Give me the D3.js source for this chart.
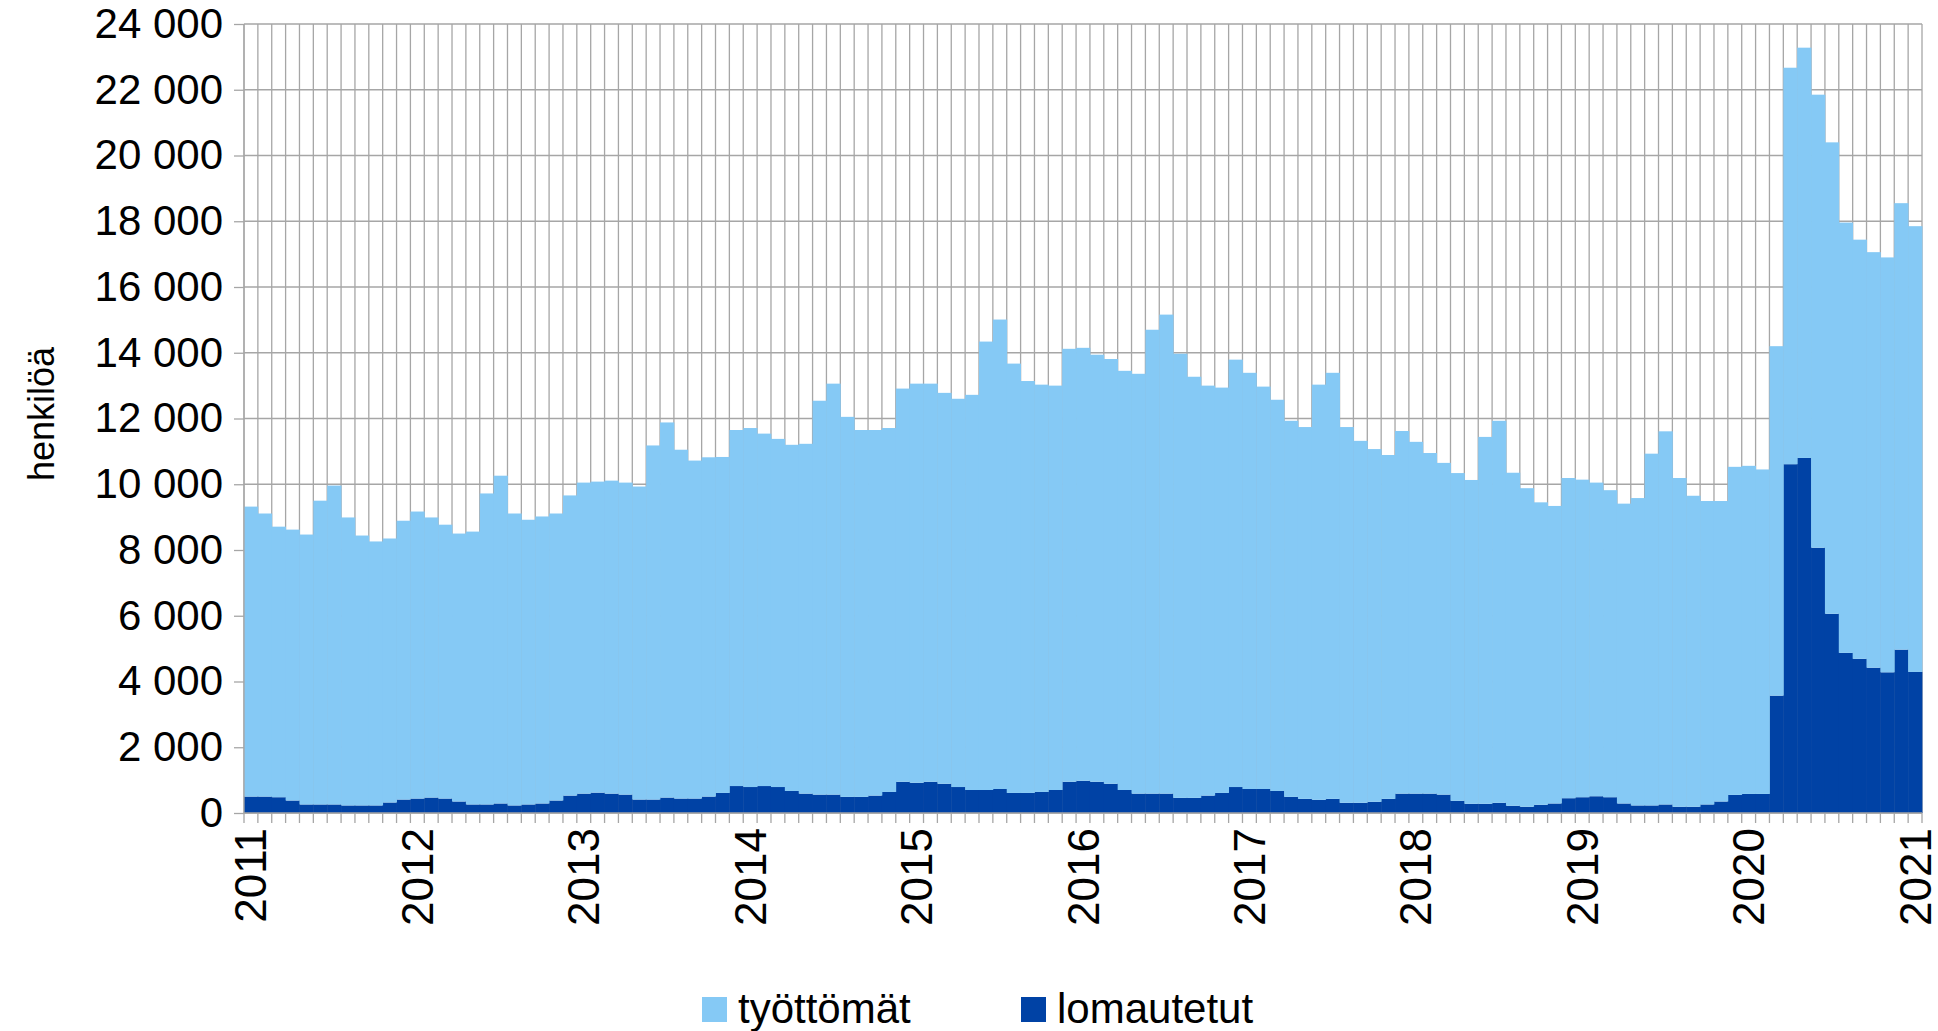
<!DOCTYPE html>
<html>
<head>
  <meta http-equiv="Content-Type" content="text/html; charset=UTF-8" />
  <title>Työttömät ja lomautetut</title>
  <style>
    body {
      padding: 0;
      margin: 0;
      background: #fff;
    }
    svg text {
      font-family: "Liberation Sans", Arial, sans-serif;
      fill: #000;
    }
  </style>
</head>
<body>

<svg width="1938" height="1031"></svg>

<script src="https://d3js.org/d3.v7.min.js"></script>
<script>

// monthly categories, Jan 2011 .. Jan 2021
var months = d3.timeMonth.range(new Date(2011, 0, 1), new Date(2021, 1, 1))
var yearLabels = ["2011", "2012", "2013", "2014", "2015", "2016", "2017", "2018", "2019", "2020", "2021"]

var lomautetut = [
  500, 500, 480, 380, 260, 260, 260, 230, 230, 230, 320, 410,
  440, 470, 440, 350, 260, 260, 290, 230, 260, 290, 380, 530,
  590, 620, 590, 560, 410, 410, 470, 440, 440, 500, 610, 820,
  790, 820, 790, 670, 590, 560, 560, 490, 490, 530, 640, 950,
  920, 950, 890, 790, 700, 700, 730, 610, 610, 640, 700, 950,
  980, 950, 890, 700, 590, 590, 590, 460, 460, 530, 610, 790,
  730, 730, 670, 490, 430, 400, 430, 310, 310, 340, 430, 590,
  590, 590, 560, 370, 280, 280, 310, 220, 190, 250, 290, 450,
  480, 510, 480, 290, 230, 230, 260, 190, 190, 260, 350, 550,
  580, 580, 3570, 10610, 10800, 8070, 6060, 4870, 4690, 4420, 4280, 4970,
  4290
]

var tyottomat = [
  8820, 8610, 8230, 8240, 8210, 9240, 9700, 8760, 8210, 8030, 8030, 8480,
  8730, 8520, 8330, 8150, 8300, 9460, 9970, 8880, 8660, 8730, 8730, 9130,
  9460, 9460, 9520, 9490, 9520, 10770, 11410, 10610, 10280, 10320, 10220, 10830,
  10920, 10720, 10590, 10530, 10640, 11980, 12500, 11560, 11160, 11120, 11070, 11960,
  12140, 12110, 11890, 11810, 12020, 13640, 14280, 13060, 12530, 12390, 12300, 13170,
  13170, 12990, 12920, 12750, 12770, 14110, 14570, 13510, 12810, 12470, 12330, 13000,
  12660, 12240, 11900, 11440, 11310, 12630, 12960, 11430, 11010, 10730, 10460, 11030,
  10700, 10360, 10090, 9970, 9850, 11160, 11620, 10130, 9690, 9200, 9050, 9740,
  9660, 9540, 9340, 9120, 9350, 10700, 11350, 10000, 9460, 9230, 9140, 9980,
  9980, 9870, 10630, 12060, 12480, 13780, 14340, 13090, 12750, 12640, 12620, 13580,
  13560
]

var colors = {
  tyottomat: "#85c9f5",
  lomautetut: "#0042a5"
}
var gridColor = "#a6a6a6"
var fontSize = 42

// plot box (note: "top" is taken by window.top)
var plotL = 244, plotR = 1922, plotT = 24, plotB = 813

var key = d3.timeFormat("%Y-%m")
var fi = d3.formatLocale({decimal: ",", thousands: " ", grouping: [3], currency: ["", " €"]})

var rows = months.map((m, i) => ({
  month: key(m),
  lomautetut: lomautetut[i],
  tyottomat: tyottomat[i]
}))

var series = d3.stack().keys(["lomautetut", "tyottomat"])(rows)

var x = d3.scaleBand().domain(rows.map(d => d.month)).range([plotL, plotR]).padding(0)
var y = d3.scaleLinear().domain([0, 24000]).range([plotB, plotT])

var svg = d3.select("svg")

// vertical grid, one line per category boundary
var bounds = rows.map(d => x(d.month)).concat([plotR])

svg.append("g")
  .selectAll("line")
  .data(bounds)
  .enter()
  .append("line")
  .attr("x1", d => d).attr("x2", d => d)
  .attr("y1", plotT).attr("y2", plotB + 10)
  .style("stroke", gridColor)
  .style("stroke-width", 1.3)

// horizontal grid
svg.append("g")
  .selectAll("line")
  .data(y.ticks(12))
  .enter()
  .append("line")
  .attr("x1", plotL).attr("x2", plotR)
  .attr("y1", d => y(d)).attr("y2", d => y(d))
  .style("stroke", gridColor)
  .style("stroke-width", 1.3)

// stacked bars
svg.append("g")
  .selectAll("g")
  .data(series)
  .enter()
  .append("g")
  .style("fill", s => colors[s.key])
  .selectAll("rect")
  .data(s => s)
  .enter()
  .append("rect")
  .attr("x", d => x(d.data.month))
  .attr("width", x.bandwidth() + 0.4)
  .attr("y", d => y(d[1]))
  .attr("height", d => y(d[0]) - y(d[1]))

// y axis
var yAxis = svg.append("g")
  .attr("transform", "translate(" + plotL + ",0)")
  .call(d3.axisLeft(y).ticks(12).tickFormat(fi.format(",d")).tickSize(10).tickPadding(11))

yAxis.selectAll("path, line").style("stroke", gridColor).style("stroke-width", 1.3)
yAxis.select("path.domain").attr("d", "M0," + plotT + "V" + plotB)
yAxis.selectAll("text")
  .style("font-size", fontSize + "px")
  .style("font-family", "'Liberation Sans', Arial, sans-serif")
  .attr("fill", "#000")

// x axis line
svg.append("line")
  .attr("x1", plotL).attr("x2", plotR)
  .attr("y1", plotB).attr("y2", plotB)
  .style("stroke", gridColor)
  .style("stroke-width", 1.3)

// year labels under January bars
svg.append("g")
  .selectAll("text")
  .data(yearLabels)
  .enter()
  .append("text")
  .attr("transform", d => "translate(" + (x(d + "-01") + x.bandwidth() / 2) + "," + (plotB + 15) + ") rotate(-90)")
  .attr("text-anchor", "end")
  .attr("dominant-baseline", "central")
  .style("font-size", "44px")
  .text(d => d)

// axis title
svg.append("text")
  .attr("transform", "translate(54,414) rotate(-90)")
  .attr("text-anchor", "middle")
  .style("font-size", "36px")
  .text("henkilöä")

// legend
var legend = [
  {label: "työttömät", key: "tyottomat", x: 702},
  {label: "lomautetut", key: "lomautetut", x: 1021}
]

var lg = svg.append("g")
  .selectAll("g")
  .data(legend)
  .enter()
  .append("g")

lg.append("rect")
  .attr("x", d => d.x)
  .attr("y", 997)
  .attr("width", 25)
  .attr("height", 25)
  .style("fill", d => colors[d.key])

lg.append("text")
  .attr("x", d => d.x + 36)
  .attr("y", 1023)
  .style("font-size", fontSize + "px")
  .text(d => d.label)

</script>
</body>
</html>
